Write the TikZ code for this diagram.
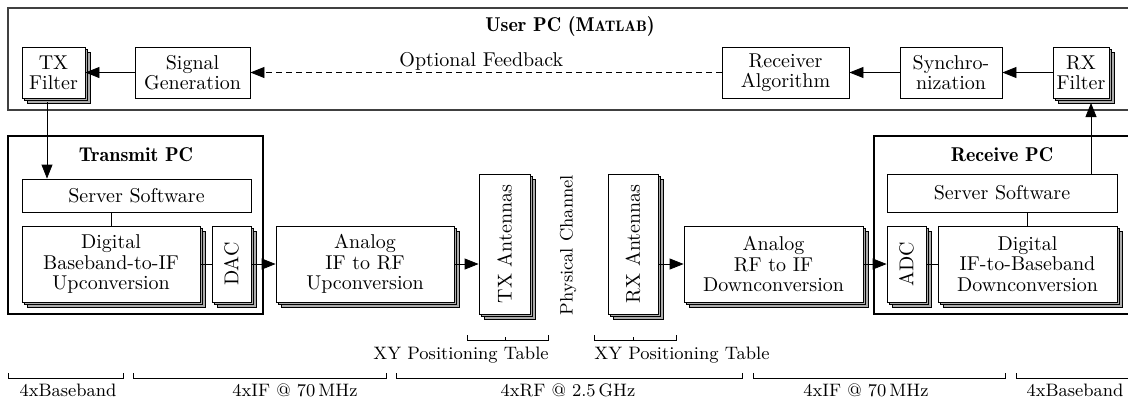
\documentclass[tikz,border=0pt]{standalone}
\usetikzlibrary{positioning,shadows,arrows.meta,calc}
\newdimen\pxu \pxu=0.5pt
\tikzset{
  block/.style   = {shape=rectangle, draw, fill=white, align=center,
                    inner sep=1pt, font=\fontsize{10}{10.2}\selectfont},
  stacked/.style = {block,
                    general shadow={shadow xshift=2.6pt, shadow yshift=-2.6pt,
                                    fill=gray!65, draw=black},
                    general shadow={shadow xshift=1.3pt, shadow yshift=-1.3pt,
                                    fill=gray!65, draw=black}},
  pcframe/.style = {draw, line width=0.6pt},
  userframe/.style = {draw=black!75, line width=1pt},
  pctitle/.style = {font=\fontseries{b}\selectfont},
  bandtext/.style = {inner sep=0pt, anchor=base, font=\small}
}
\begin{document}
\begin{tikzpicture}[x=\pxu, y=-\pxu, >={Triangle[length=7pt,width=5.5pt]}]
\useasboundingbox (0,0) rectangle (1128,398);
\clip (0,0) rectangle (1128,398);
% user pc
\draw[userframe] (8,8) rectangle (1140,110);
\node[pctitle] (usertitle) at (570,26) {User PC (M{\fontsize{7.6}{9}\selectfont ATLAB})};
\node[stacked, minimum width=63\pxu, minimum height=51\pxu] (txfilter) at (53.5,72.5) {TX\\Filter};
\node[block, minimum width=115\pxu, minimum height=51\pxu] (siggen) at (192.5,72.5) {Signal\\Generation};
\node[block, minimum width=127\pxu, minimum height=51\pxu] (rxalg) at (785.5,72.5) {Receiver\\Algorithm};
\node[block, minimum width=102\pxu, minimum height=51\pxu] (sync) at (951,72.5) {Synchro-\\nization};
\node[stacked, minimum width=56\pxu, minimum height=51\pxu] (rxfilter) at (1081,72.5) {RX\\Filter};
\draw[->] (siggen) -- (txfilter);
\draw[->, dash pattern=on 3pt off 2pt] (rxalg) -- node[above, pos=0.51, inner sep=1pt] {Optional Feedback} (siggen);
\draw[->] (sync) -- (rxalg);
\draw[->] (rxfilter) -- (sync);

% transmit pc
\draw[pcframe] (8,136) rectangle (263,314);
\node[pctitle] (txtitle) at (136,155) {Transmit PC};
\node[block, minimum width=229\pxu, minimum height=33\pxu] (txsw) at (136.5,195.5) {Server Software};
\node[stacked, minimum width=178\pxu, minimum height=76\pxu] (txdig) at (111,264) {Digital\\Baseband-to-IF\\Upconversion};
\node[stacked, minimum width=39\pxu, minimum height=76\pxu] (dac) at (231.5,264) {\rotatebox{90}{DAC}};
\coordinate (txdown) at (47,102);
\draw[->] (txdown) -- (txdown |- txsw.north);
\draw (txdig.north) -- (txdig.north |- txsw.south);
\draw (txdig) -- (dac);

% channel
\node[stacked, minimum width=178\pxu, minimum height=76\pxu] (anaup) at (365,264) {Analog\\IF to RF\\Upconversion};
\node[stacked, minimum width=51\pxu, minimum height=140\pxu] (txant) at (504.5,244) {\rotatebox{90}{TX Antennas}};
\node[rotate=90, font=\small] (channel) at (568,245) {Physical Channel};
\node[stacked, minimum width=50\pxu, minimum height=140\pxu] (rxant) at (633,244) {\rotatebox{90}{RX Antennas}};
\node[stacked, minimum width=179\pxu, minimum height=76\pxu] (anadown) at (773.5,264) {Analog\\RF to IF\\Downconversion};
\draw[->] (dac) -- (anaup);
\draw[->] (anaup.east) -- (anaup.east -| txant.west);
\draw[->] (anadown.west -| rxant.east) -- (anadown.west);

% receive pc
\draw[pcframe] (874,136) rectangle (1140,314);
\node[pctitle] (rxtitle) at (1002,155) {Receive PC};
\node[block, minimum width=230\pxu, minimum height=38\pxu] (rxsw) at (1002,193) {Server Software};
\node[stacked, minimum width=39\pxu, minimum height=76\pxu] (adc) at (906.5,264) {\rotatebox{90}{ADC}};
\node[stacked, minimum width=179\pxu, minimum height=76\pxu] (rxdig) at (1027.5,264) {Digital\\IF-to-Baseband\\Downconversion};
\coordinate (rxup) at (1091,103);
\draw[->] (anadown) -- (adc);
\draw (adc) -- (rxdig);
\draw (rxdig.north) -- (rxdig.north |- rxsw.south);
\draw[->] (rxup |- rxsw.north) -- (rxup);

% positioning tables
\draw (467,335) -- (467,340) -- (548,340) -- (548,335) (505,340) -- (505,337);
\draw (594,335) -- (594,340) -- (676,340) -- (676,335) (633,340) -- (633,337);
\node[anchor=base east, inner sep=0pt, font=\small] (txtable) at (549,359) {XY Positioning Table};
\node[anchor=base west, inner sep=0pt, font=\small] (rxtable) at (594,359) {XY Positioning Table};

% signal bands
\foreach \a/\b in {8/123, 133/386, 396/742, 753/1005, 1016/1140}
  \draw (\a,373) -- (\a,378) -- (\b,378) -- (\b,373);
\node[bandtext] (band1) at (68,396) {4xBaseband};
\node[bandtext] (band2) at (295,396) {4xIF @ 70\,MHz};
\node[bandtext] (band3) at (568,396) {4xRF @ 2.5\,GHz};
\node[bandtext] (band4) at (866,396) {4xIF @ 70\,MHz};
\node[bandtext] (band5) at (1075,396) {4xBaseband};
\end{tikzpicture}
\end{document}
